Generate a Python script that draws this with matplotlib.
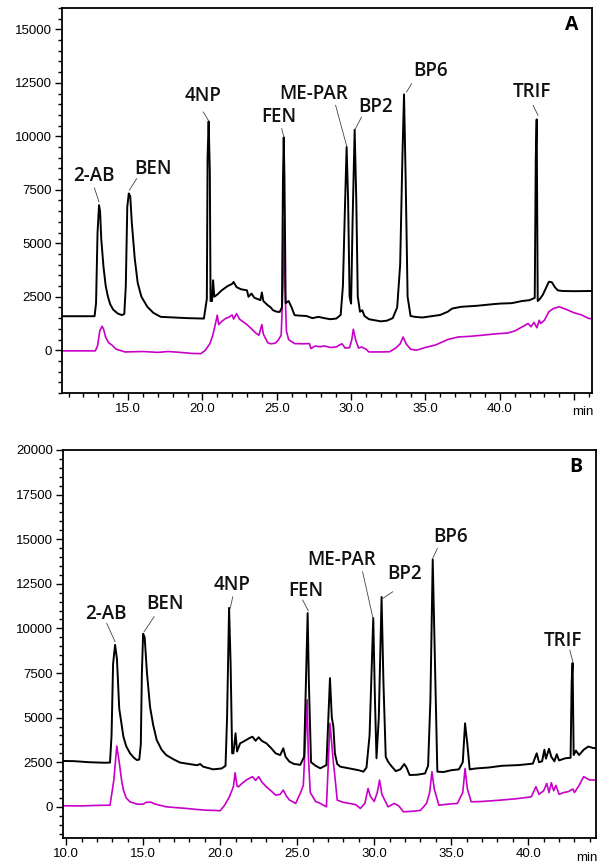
import matplotlib
matplotlib.use("Agg")
import matplotlib.pyplot as plt
from matplotlib.ticker import MultipleLocator, FixedLocator, FixedFormatter
import matplotlib.transforms as mtransforms

# ---- panel A: time (min) / signal ----
a_black_t = [10.56, 12.75, 12.85, 12.95, 13.05, 13.12, 13.2, 13.35, 13.5, 13.65, 13.8, 14.0, 14.3, 14.6,
             14.75, 14.85, 14.95, 15.05, 15.15, 15.25, 15.45, 15.65, 15.9, 16.3, 16.7, 17.2, 18.1, 19.0,
             20.1, 20.3, 20.35, 20.42, 20.5, 20.55, 20.65, 20.72, 20.8, 21.0, 21.3, 21.7, 22.0, 22.1,
             22.3, 22.6, 23.0, 23.1, 23.3, 23.5, 23.7, 23.9, 24.0, 24.1, 24.4, 24.6, 24.75, 25.0, 25.2,
             25.35, 25.42, 25.47, 25.52, 25.6, 25.8, 26.0, 26.2, 26.5, 27.0, 27.4, 27.8, 28.2, 28.6,
             29.0, 29.3, 29.45, 29.6, 29.7, 29.8, 29.9, 30.0, 30.1, 30.24, 30.35, 30.45, 30.6, 30.75,
             30.9, 31.2, 31.6, 32.0, 32.4, 32.8, 33.1, 33.3, 33.45, 33.56, 33.67, 33.8, 34.0, 34.3,
             34.8, 35.5, 36.0, 36.5, 36.8, 37.4, 38.5, 39.5, 40.0, 40.8, 41.5, 42.0, 42.35, 42.42,
             42.48, 42.55, 42.7, 42.9, 43.1, 43.3, 43.5, 43.7, 43.9, 44.2, 45.0, 46.2]
a_black_v = [1590, 1590, 2200, 5500, 6780, 6500, 5200, 3900, 3000, 2500, 2150, 1900, 1720, 1640,
             1700, 3000, 6700, 7330, 7200, 6000, 4300, 3150, 2500, 2030, 1750, 1560, 1530, 1500,
             1480, 2400, 9000, 10700, 8400, 2300, 2300, 3270, 2500, 2600, 2800, 3000, 3100, 3190,
             2950, 2850, 2800, 2500, 2650, 2450, 2400, 2340, 2700, 2300, 2100, 2000, 1870, 1800, 1790,
             2000, 8000, 9950, 8000, 2200, 2300, 2000, 1640, 1620, 1600, 1500, 1560, 1500, 1450,
             1480, 1650, 3000, 7000, 9500, 7000, 2500, 2180, 6000, 10310, 7000, 2500, 1800, 1870,
             1600, 1450, 1400, 1350, 1380, 1500, 2000, 4000, 9000, 11960, 8000, 2500, 1600, 1560,
             1530, 1600, 1650, 1800, 1950, 2030, 2080, 2150, 2180, 2200, 2300, 2340, 2450, 9000,
             10790, 2300, 2400, 2600, 2900, 3200, 3180, 2950, 2800, 2770, 2760, 2770]

a_pink_t = [10.56, 12.8, 12.95, 13.1, 13.25, 13.35, 13.5, 13.7, 13.9, 14.2, 14.8, 16.0, 17.0, 17.7,
            18.5, 19.3, 19.9, 20.2, 20.5, 20.7, 20.9, 21.0, 21.1, 21.3, 21.6, 21.8, 22.0, 22.1, 22.3,
            22.5, 22.8, 23.0, 23.3, 23.6, 23.8, 24.0, 24.1, 24.4, 24.6, 24.9, 25.1, 25.3, 25.42, 25.5,
            25.56, 25.65, 25.8, 26.0, 26.2, 26.8, 27.2, 27.3, 27.6, 27.9, 28.2, 28.6, 29.0, 29.2, 29.4,
            29.6, 29.9, 30.05, 30.15, 30.3, 30.5, 30.7, 31.0, 31.2, 32.0, 32.6, 33.0, 33.3, 33.5, 33.7,
            34.0, 34.4, 35.0, 35.7, 36.5, 37.2, 38.0, 38.8, 39.5, 40.0, 40.5, 41.0, 41.5, 41.9, 42.1,
            42.3, 42.5, 42.65, 42.75, 43.0, 43.3, 43.6, 44.0, 44.5, 45.0, 45.5, 46.0, 46.2]
a_pink_v = [-30, -30, 200, 900, 1120, 1000, 600, 350, 250, 50, -80, -60, -100, -60,
            -100, -150, -160, 0, 300, 700, 1300, 1640, 1200, 1350, 1500, 1550, 1650, 1460, 1710,
            1450, 1300, 1200, 1000, 800, 700, 1200, 750, 350, 300, 330, 470, 700, 3000, 6070,
            2880, 900, 500, 400, 310, 300, 310, 80, 200, 160, 200, 130, 150, 240, 300,
            100, 120, 500, 980, 500, 100, 150, 50, -80, -80, -70, 100, 300, 620, 300,
            50, 0, 130, 250, 500, 620, 650, 700, 750, 780, 800, 900, 1090, 1250, 1100,
            1300, 1050, 1400, 1250, 1400, 1800, 1950, 2030, 1900, 1750, 1650, 1480, 1480]

# ---- panel B ----
b_black_t = [9.8, 10.5, 11.5, 12.5, 12.85, 12.95, 13.05, 13.18, 13.3, 13.45, 13.72, 13.9, 14.15, 14.4,
             14.6, 14.75, 14.85, 14.92, 15.0, 15.1, 15.25, 15.45, 15.65, 15.88, 16.2, 16.5, 17.0, 17.4,
             18.0, 18.5, 18.7, 18.9, 19.55, 20.1, 20.35, 20.45, 20.58, 20.68, 20.78, 20.86, 21.0, 21.1,
             21.3, 21.5, 21.7, 21.9, 22.1, 22.3, 22.5, 22.7, 23.0, 23.3, 23.6, 23.9, 24.1, 24.25, 24.5,
             24.8, 25.0, 25.2, 25.45, 25.6, 25.68, 25.76, 25.9, 26.2, 26.5, 26.9, 27.0, 27.13, 27.25,
             27.35, 27.45, 27.6, 27.8, 28.4, 29.0, 29.3, 29.5, 29.7, 29.85, 29.94, 30.05, 30.15, 30.3,
             30.48, 30.6, 30.75, 30.9, 31.1, 31.4, 31.7, 31.95, 32.1, 32.3, 32.8, 33.3, 33.5, 33.65,
             33.8, 33.95, 34.1, 34.5, 35.0, 35.5, 35.75, 35.9, 36.05, 36.2, 36.6, 37.4, 38.3, 39.4,
             40.3, 40.55, 40.7, 40.9, 41.05, 41.15, 41.35, 41.5, 41.7, 41.85, 42.0, 42.4, 42.75, 42.82,
             42.88, 42.95, 43.1, 43.3, 43.6, 43.9, 44.2, 44.4]
b_black_v = [2570, 2560, 2500, 2470, 2480, 4000, 8000, 9080, 8300, 5500, 3930, 3400, 3000, 2750,
             2620, 2650, 3500, 7500, 9700, 9500, 7500, 5600, 4600, 3750, 3200, 2900, 2650, 2480,
             2400, 2330, 2400, 2250, 2100, 2150, 2300, 5000, 11150, 8000, 3000, 3000, 4120, 3100,
             3560, 3650, 3750, 3850, 3930, 3700, 3900, 3700, 3560, 3300, 3000, 2900, 3280, 2800, 2530,
             2400, 2380, 2350, 2800, 8000, 10860, 7000, 2500, 2300, 2160, 2340, 4500, 7210, 5000,
             4500, 3000, 2400, 2250, 2150, 2050, 1970, 2200, 4000, 8000, 10580, 6000, 2720, 5000,
             11760, 7000, 2800, 2530, 2300, 2000, 2100, 2400, 2200, 1780, 1800, 1870, 2300, 6000,
             13860, 8000, 1970, 1950, 2050, 2100, 2500, 4680, 3500, 2100, 2150, 2200, 2300, 2340,
             2420, 3000, 2500, 2550, 3200, 2700, 3250, 2800, 2550, 2950, 2600, 2720, 2750, 7000,
             8060, 2900, 3150, 2900, 3200, 3380, 3300, 3280]

b_pink_t = [9.8, 11.0, 12.0, 12.85, 13.1, 13.29, 13.45, 13.6, 13.72, 13.9, 14.15, 14.6, 15.0, 15.2,
            15.5, 15.8, 16.5, 17.2, 17.8, 18.5, 19.1, 19.6, 20.0, 20.3, 20.6, 20.86, 20.97, 21.1, 21.2,
            21.4, 21.7, 21.9, 22.1, 22.3, 22.5, 22.7, 23.0, 23.3, 23.6, 23.9, 24.1, 24.3, 24.5, 24.9,
            25.2, 25.4, 25.55, 25.65, 25.72, 25.85, 26.2, 26.5, 26.9, 27.0, 27.13, 27.25, 27.35, 27.45,
            27.6, 28.0, 28.4, 28.8, 29.1, 29.4, 29.6, 29.75, 30.0, 30.2, 30.35, 30.5, 30.9, 31.3, 31.6,
            31.9, 32.5, 33.0, 33.4, 33.6, 33.75, 33.9, 34.2, 34.8, 35.4, 35.75, 35.9, 36.05, 36.3, 37.0,
            38.2, 39.2, 40.2, 40.5, 40.7, 41.0, 41.2, 41.35, 41.5, 41.65, 41.8, 42.0, 42.3, 42.6, 42.9,
            43.0, 43.3, 43.6, 44.0, 44.4]
b_pink_v = [60, 50, 80, 90, 1500, 3410, 2500, 1500, 940, 500, 280, 150, 150, 250,
            260, 150, 0, -50, -90, -150, -190, -200, -220, 100, 560, 1124, 1910, 1150, 1124,
            1300, 1500, 1600, 1690, 1480, 1690, 1400, 1120, 900, 655, 700, 940, 600, 380, 190,
            750, 1200, 4000, 6000, 3000, 800, 300, 190, 0, 2000, 4680, 3500, 2500, 1690,
            375, 250, 190, 120, -90, 200, 1030, 600, 300, 800, 1500, 700, 0, 190, 50,
            -280, -250, -200, 190, 800, 1970, 1000, 90, 150, 190, 800, 2150, 1000, 280, 300,
            375, 450, 560, 1124, 700, 900, 1310, 800, 1350, 900, 1200, 700, 800, 850, 1000,
            800, 1200, 1690, 1500, 1500]

peak_names = ['2-AB', 'BEN', '4NP', 'FEN', 'ME-PAR', 'BP2', 'BP6', 'TRIF']
# label text position and leader line (start -> end), data coords
a_label_xy = [(12.72, 8130), (16.68, 8460), (20.04, 11870), (25.15, 10890),
              (27.5, 11960), (31.67, 11360), (35.36, 13040), (42.15, 12060)]
a_lead = [((12.74, 7590), (13.05, 6930)), ((15.58, 8020), (15.09, 7480)),
          ((20.06, 11140), (20.4, 10750)), ((25.33, 10360), (25.48, 9970)),
          ((28.96, 11450), (29.7, 9550)), ((30.7, 10900), (30.26, 10310)),
          ((34.07, 12460), (33.73, 12070)), ((42.24, 11450), (42.57, 10980))]
b_label_xy = [(12.6, 10800), (16.42, 11360), (20.77, 12430), (25.57, 12100),
              (27.91, 13830), (32.0, 13050), (34.98, 15120), (42.25, 9290)]
b_lead = [((12.64, 10280), (13.18, 9250)), ((15.71, 10650), (15.06, 9810)),
          ((20.82, 11770), (20.65, 11120)), ((25.36, 11590), (25.72, 10990)),
          ((29.25, 13170), (29.94, 10500)), ((31.2, 12050), (30.55, 11680)),
          ((34.1, 14480), (33.8, 13920)), ((42.7, 8780), (42.9, 8130))]

PINK = '#c800c8'
TICK_FONT = 'Liberation Sans'
LABEL_FONT = 'Open Sans'


def draw_panel(ax, bt, bv, pt, pv, label_xy, leads, xlim, ylim, xlabels, letter, min_x):
    ax.plot(pt, pv, color=PINK, lw=1.2, zorder=2)
    ax.plot(bt, bv, color='black', lw=1.4, zorder=3)
    ax.set_xlim(*xlim)
    ax.set_ylim(*ylim)

    ax.xaxis.set_major_locator(FixedLocator(xlabels))
    ax.xaxis.set_major_formatter(FixedFormatter(['%.1f' % v for v in xlabels]))
    ax.xaxis.set_minor_locator(MultipleLocator(1))
    ax.yaxis.set_major_locator(MultipleLocator(2500))
    ax.yaxis.set_minor_locator(MultipleLocator(500))
    ax.tick_params(which='major', length=5, width=1, labelsize=9.5, pad=2)
    ax.tick_params(which='minor', length=3, width=1)
    for lab in ax.get_xticklabels() + ax.get_yticklabels():
        lab.set_fontfamily(TICK_FONT)
    for s in ax.spines.values():
        s.set_linewidth(1.3)

    for name, (lx, ly), (p0, p1) in zip(peak_names, label_xy, leads):
        ax.text(lx, ly, name, ha='center', va='center', fontsize=13.5,
                family=LABEL_FONT, fontweight='semibold', color='#111111', zorder=5)
        ax.plot([p0[0], p1[0]], [p0[1], p1[1]], color='#444444', lw=0.6, zorder=4)

    ax.text(0.975, 0.955, letter, transform=ax.transAxes, ha='right', va='center',
            fontsize=14, fontweight='bold', family=LABEL_FONT)

    trans = mtransforms.blended_transform_factory(ax.transData, ax.transAxes)
    ax.text(min_x, -0.035, 'min', transform=trans, ha='center', va='top',
            fontsize=9.5, family=TICK_FONT)


fig = plt.figure(figsize=(5.99, 8.67), dpi=100)
ax1 = fig.add_axes([0.1035, 0.5467, 0.8848, 0.4441])
ax2 = fig.add_axes([0.1052, 0.0334, 0.8898, 0.4476])

draw_panel(ax1, a_black_t, a_black_v, a_pink_t, a_pink_v, a_label_xy, a_lead,
           (10.56, 46.2), (-2000, 16000), [15, 20, 25, 30, 35, 40, 45], 'A', 45.6)
ax1.set_xticklabels(['15.0', '20.0', '25.0', '30.0', '35.0', '40.0', ''])
for lab in ax1.get_xticklabels():
    lab.set_fontfamily(TICK_FONT)

draw_panel(ax2, b_black_t, b_black_v, b_pink_t, b_pink_v, b_label_xy, b_lead,
           (9.8, 44.4), (-1750, 20000), [10, 15, 20, 25, 30, 35, 40], 'B', 43.8)

fig.savefig('out.png', dpi=100)
